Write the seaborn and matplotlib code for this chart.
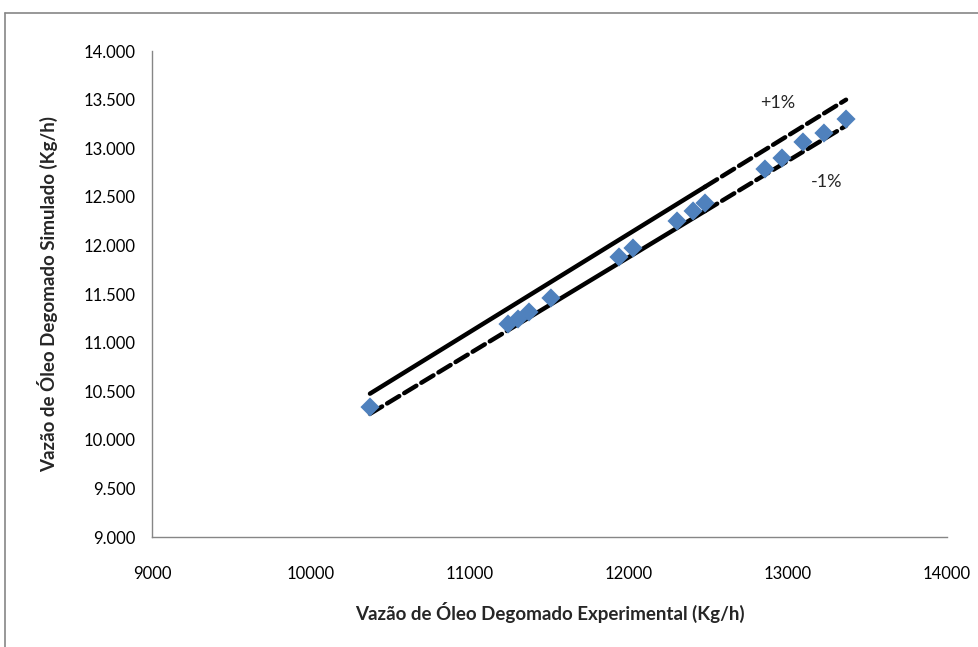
import matplotlib
matplotlib.use("Agg")
import matplotlib.pyplot as plt
import matplotlib.ticker as mticker
from matplotlib.lines import Line2D
import seaborn as sns
import numpy as np
import pandas as pd

# Data
experimental = [10371, 11239, 11302, 11371, 11509, 11937, 12025, 12302, 12403, 12478,
                12855, 12962, 13094, 13226, 13365]
simulated = [10337, 11191, 11243, 11315, 11459, 11881, 11973, 12251, 12354, 12436,
             12786, 12899, 13064, 13156, 13300]
x_ticks = [9000, 10000, 11000, 12000, 13000, 14000]
y_ticks = [9000, 9500, 10000, 10500, 11000, 11500, 12000, 12500, 13000, 13500, 14000]
upper_label = "+1%"
lower_label = "-1%"
x_label = "Vazão de Óleo Degomado Experimental (Kg/h)"
y_label = "Vazão de Óleo Degomado Simulado (Kg/h)"

sns.set_style("white")
plt.rcParams['font.family'] = ['Lato', 'DejaVu Sans']

df = pd.DataFrame({"exp": experimental, "sim": simulated})
exp = np.array(experimental, dtype=float)
upper = exp * 1.01
lower = exp * 0.99

fig = plt.figure(figsize=(9.79, 6.47), dpi=100)
ax = fig.add_axes([152/979, 1-537/647, (947-152)/979, (537-51)/647])

lw = 3.2
dash = (3.2, 1.3)
# +1% line: solid up to index 9, dashed after
ax.plot(exp[:10], upper[:10], color="black", lw=lw, solid_capstyle="round", zorder=2)
ax.plot(exp[9:], upper[9:], color="black", lw=lw, dashes=dash, dash_capstyle="round", zorder=2)
# -1% line: dashed start, solid middle, dashed end
ax.plot(exp[:2], lower[:2], color="black", lw=lw, dashes=dash, dash_capstyle="round", zorder=2)
ax.plot(exp[1:10], lower[1:10], color="black", lw=lw, solid_capstyle="round", zorder=2)
ax.plot(exp[9:], lower[9:], color="black", lw=lw, dashes=dash, dash_capstyle="round", zorder=2)

sns.scatterplot(data=df, x="exp", y="sim", marker="D", s=95, color="#4F81BD",
                edgecolor="none", ax=ax, zorder=3)

ax.text(12937, 13465, upper_label, fontsize=13, ha="center", va="center")
ax.text(13245, 12652, lower_label, fontsize=13, ha="center", va="center")

ax.set_xlim(9000, 14000)
ax.set_ylim(9000, 14000)
ax.set_xticks(x_ticks)
ax.set_yticks(y_ticks)
ax.yaxis.set_major_formatter(mticker.FuncFormatter(lambda v, p: f"{int(v)//1000}.{int(v)%1000:03d}"))
ax.xaxis.set_major_formatter(mticker.FuncFormatter(lambda v, p: f"{int(v)}"))

for s in ["top", "right"]:
    ax.spines[s].set_visible(False)
for s in ["left", "bottom"]:
    ax.spines[s].set_color("#868686")
    ax.spines[s].set_linewidth(1.0)
ax.tick_params(axis="both", which="major", direction="out", length=5, width=1,
               color="#868686", labelsize=12, labelcolor="black")
ax.tick_params(axis="x", pad=16)
ax.tick_params(axis="y", pad=7)

ax.set_xlabel(x_label, fontsize=13.5, fontweight="bold", labelpad=14)
ax.set_ylabel(y_label, fontsize=13.5, fontweight="bold", labelpad=18)

# figure border (gray frame partially visible)
fig.add_artist(Line2D([5/979, 5/979], [0, 1-13/647], transform=fig.transFigure,
                      color="#868686", lw=1.2))
fig.add_artist(Line2D([5/979, 1], [1-13/647, 1-13/647], transform=fig.transFigure,
                      color="#868686", lw=1.2))

fig.savefig("out.png", dpi=100)
